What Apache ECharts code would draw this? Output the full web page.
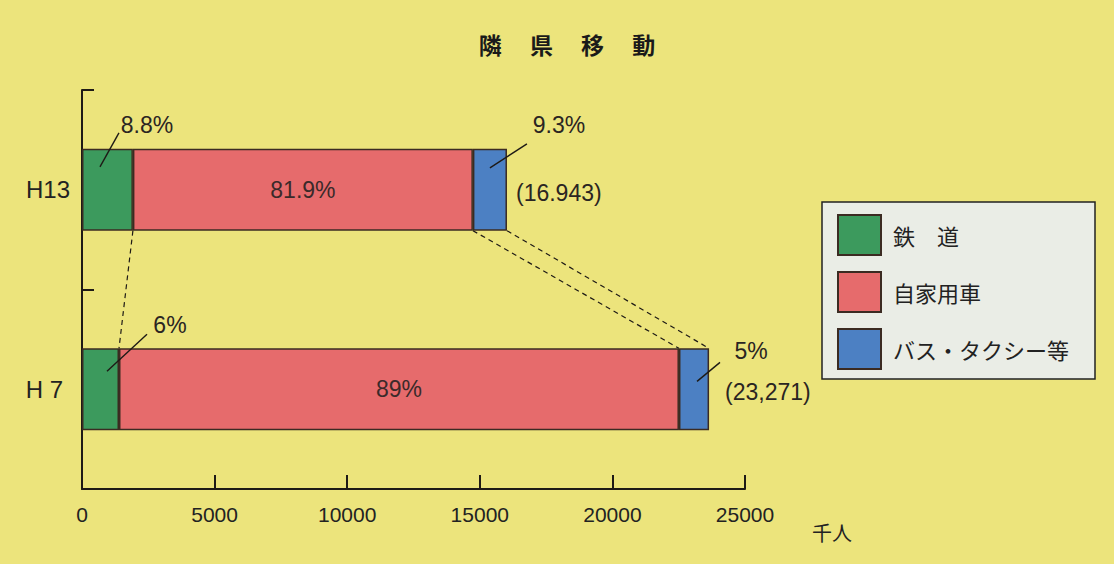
<!DOCTYPE html>
<html><head><meta charset="utf-8">
<script src="https://cdn.jsdelivr.net/npm/echarts@6/dist/echarts.min.js"></script>
<style>html,body{margin:0;padding:0;background:#ece47c;} #c{width:1114px;height:564px;}</style>
</head><body><div id="c"></div>
<script>
// ---- data ----
const categories = ['H13', 'H 7'];
const seriesNames = ['鉄　道', '自家用車', 'バス・タクシー等'];
const railValues = [1920, 1395];
const carValues = [12820, 21115];
const busValues = [1285, 1135];
const railPct = ['8.8%', '6%'];
const carPct = ['81.9%', '89%'];
const busPct = ['9.3%', '5%'];
const totalLabels = ['(16.943)', '(23,271)'];
const xMin = 0, xMax = 25000, xStep = 5000;
const unitLabel = '千人';
const titleText = '隣\u3000 県\u3000 移\u3000 動';

// ---- styles ----
const colors = ['#3c9a5d', '#e66b6c', '#4c80c3'];
const ink = '#1e1a16';
const borderCol = '#3b2b22';
const BAR_FRAC = 0.41;
const numFont = 'Liberation Sans, Arial, sans-serif';
const jpFont = '"Noto Sans CJK JP", sans-serif';
// annotation offsets (px) relative to segment centre / bar top, bar end / centre
const annot = [
  { rail: { from: [-7.5, 18], to: [11.5, -16], text: [39.5, -24] },
    bus: { from: [0, 19], to: [37, -5], text: [69, -24] }, total: [9, 3] },
  { rail: { from: [6.5, 23], to: [46.5, -14], text: [69.5, -23] },
    bus: { from: [3, 33], to: [26, 14], text: [57, 3] }, total: [16, 3] }
];

const chart = echarts.init(document.getElementById('c'), null, { renderer: 'svg' });

function barSeries(idx, values, extra) {
  return Object.assign({
    name: seriesNames[idx], type: 'bar', stack: 'total', barWidth: (BAR_FRAC * 100) + '%',
    itemStyle: { color: colors[idx], borderColor: borderCol, borderWidth: 1.5 },
    data: values, z: 2
  }, extra || {});
}

function renderAnnot(params, api) {
  const i = params.dataIndex;
  const bw = api.size([0, 1])[1] * BAR_FRAC;
  const X = (v, c) => api.coord([v, c])[0];
  const cy = api.coord([0, i])[1];
  const top = cy - bw / 2;
  const railEnd = railValues[i];
  const carEnd = railValues[i] + carValues[i];
  const busEnd = carEnd + busValues[i];
  const children = [];
  const a = annot[i];
  const line = (x1, y1, x2, y2, dash) => ({
    type: 'line', shape: { x1, y1, x2, y2 },
    style: { stroke: ink, lineWidth: dash ? 1.2 : 1.4, lineDash: dash ? [5, 4] : null }
  });
  const text = (t, x, y, align) => ({
    type: 'text', style: { text: t, x, y, align: align || 'center', verticalAlign: 'middle',
      font: '23px ' + numFont, fill: '#2a2522' }
  });
  const rc = (X(0, i) + X(railEnd, i)) / 2;
  children.push(line(rc + a.rail.from[0], top + a.rail.from[1], rc + a.rail.to[0], top + a.rail.to[1]));
  children.push(text(railPct[i], rc + a.rail.text[0], top + a.rail.text[1]));
  const bc = (X(carEnd, i) + X(busEnd, i)) / 2;
  children.push(line(bc + a.bus.from[0], top + a.bus.from[1], bc + a.bus.to[0], top + a.bus.to[1]));
  children.push(text(busPct[i], bc + a.bus.text[0], top + a.bus.text[1]));
  children.push(text(totalLabels[i], X(busEnd, i) + a.total[0], cy + a.total[1], 'left'));
  if (i + 1 < categories.length) {
    const j = i + 1;
    const bottom = cy + bw / 2;
    const topN = api.coord([0, j])[1] - bw / 2;
    const ends0 = [railEnd, carEnd, busEnd];
    const ends1 = [railValues[j], railValues[j] + carValues[j], railValues[j] + carValues[j] + busValues[j]];
    for (let k = 0; k < 3; k++) {
      children.push(line(X(ends0[k], i), bottom, X(ends1[k], j), topN, true));
    }
  }
  return { type: 'group', children };
}

chart.setOption({
  backgroundColor: '#ece47c',
  animation: false,
  title: {
    text: titleText, left: 562, textAlign: 'center', top: 27,
    textStyle: { fontSize: 23, fontWeight: 'bold', fontFamily: jpFont, color: '#1a1a1a' }
  },
  grid: { left: 82, right: 369, top: 90, bottom: 75, containLabel: false },
  xAxis: {
    type: 'value', min: xMin, max: xMax, interval: xStep,
    axisLine: { show: true, lineStyle: { color: ink, width: 2 } },
    axisTick: { show: true, inside: true, length: 14, lineStyle: { color: ink, width: 2 } },
    splitLine: { show: false },
    axisLabel: { color: '#222', fontSize: 21, margin: 15, fontFamily: numFont, formatter: v => String(v) }
  },
  yAxis: {
    type: 'category', data: categories, inverse: true,
    axisLine: { show: true, lineStyle: { color: ink, width: 2 } },
    axisTick: { show: true, inside: true, length: 12, lineStyle: { color: ink, width: 2 } },
    axisLabel: {
      color: '#222', fontSize: 24, margin: 12, fontFamily: numFont,
      formatter: (v, idx) => idx === 1 ? '{p|' + v + '}' : v,
      rich: { p: { fontSize: 24, fontFamily: numFont, color: '#222', padding: [0, 7, 0, 0] } }
    }
  },
  legend: {
    orient: 'vertical', left: 822, top: 202, itemWidth: 43, itemHeight: 40, itemGap: 15,
    padding: [12, 26, 9, 15], backgroundColor: '#eaede6', borderColor: '#222', borderWidth: 1.5,
    icon: 'rect', data: seriesNames,
    textStyle: { fontSize: 22, fontFamily: jpFont, color: '#222', padding: [0, 0, 0, 7] }
  },
  graphic: [{
    type: 'text', left: 812, top: 522,
    style: { text: unitLabel, font: '20px ' + jpFont, fill: '#222' }
  }],
  series: [
    barSeries(0, railValues),
    barSeries(1, carValues, {
      label: { show: true, position: 'inside', formatter: p => carPct[p.dataIndex],
        fontSize: 23, fontFamily: numFont, color: '#3a2a2a' }
    }),
    barSeries(2, busValues),
    {
      type: 'custom', coordinateSystem: 'cartesian2d', silent: true, z: 10,
      encode: { x: 0, y: 1 },
      data: categories.map((c, i) => [0, i]),
      renderItem: renderAnnot
    }
  ]
});
</script></body></html>
